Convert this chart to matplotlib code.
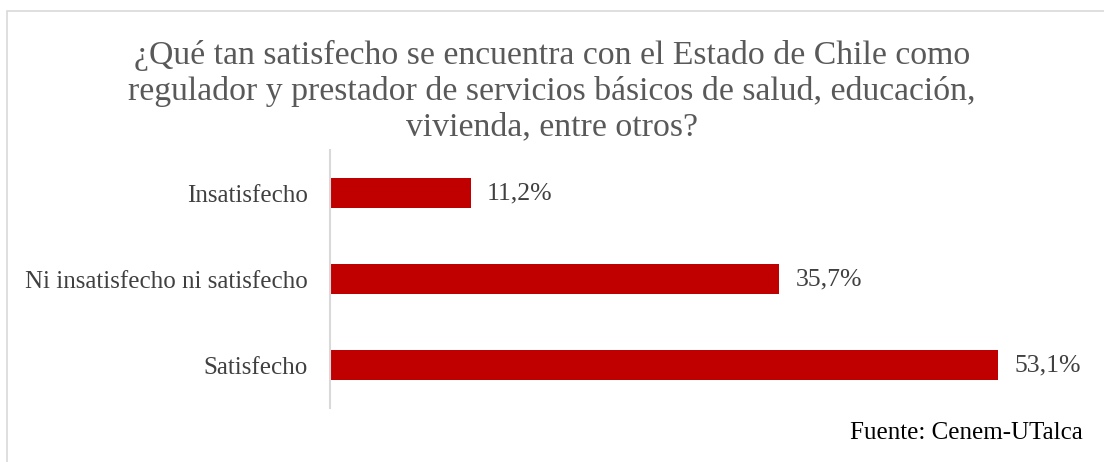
import matplotlib.pyplot as plt
from matplotlib.patches import Rectangle

# datos
categorias = ["Insatisfecho", "Ni insatisfecho ni satisfecho", "Satisfecho"]
valores = [11.2, 35.7, 53.1]
etiquetas = ["11,2%", "35,7%", "53,1%"]

titulo = ("¿Qué tan satisfecho se encuentra con el Estado de Chile como\n"
          "regulador y prestador de servicios básicos de salud, educación,\n"
          "vivienda, entre otros?")
fuente = "Fuente: Cenem-UTalca"

plt.rcParams['font.family'] = ['Liberation Serif', 'DejaVu Serif']

W, H = 1104, 462
fig = plt.figure(figsize=(W / 100, H / 100), dpi=100)

# borde del gráfico
fig.patches.append(Rectangle((7 / W, -0.05), 1.2, (H - 11) / H + 0.05,
                             transform=fig.transFigure, fill=False,
                             edgecolor="#d9d9d9", linewidth=1.2))

ax = fig.add_axes([330 / W, 1 - 408 / H, (1060 - 330) / W, (408 - 150) / H])
y = range(len(categorias))
ax.barh(y, valores, height=0.35, color="#c00000")
ax.set_ylim(2.5, -0.5)
ax.set_xlim(0, 58.0)

for yi, v, t in zip(y, valores, etiquetas):
    ax.text(v + 1.27, yi, t, va="center", ha="left", fontsize=18.5, color="#404040")

ax.set_yticks(list(y))
ax.set_yticklabels(categorias, fontsize=18, color="#404040")
ax.tick_params(axis="y", length=0, pad=16)
ax.set_xticks([])
for s in ["top", "right", "bottom"]:
    ax.spines[s].set_visible(False)
ax.spines["left"].set_color("#d9d9d9")
ax.spines["left"].set_linewidth(1.5)

fig.text(0.5, 1 - 91 / H, titulo, ha="center", va="center", fontsize=24.3,
         color="#595959", linespacing=1.2)
fig.text(1083 / W, 1 - 433 / H, fuente, ha="right", va="center", fontsize=18,
         color="black")

fig.savefig("out.png", dpi=100)
